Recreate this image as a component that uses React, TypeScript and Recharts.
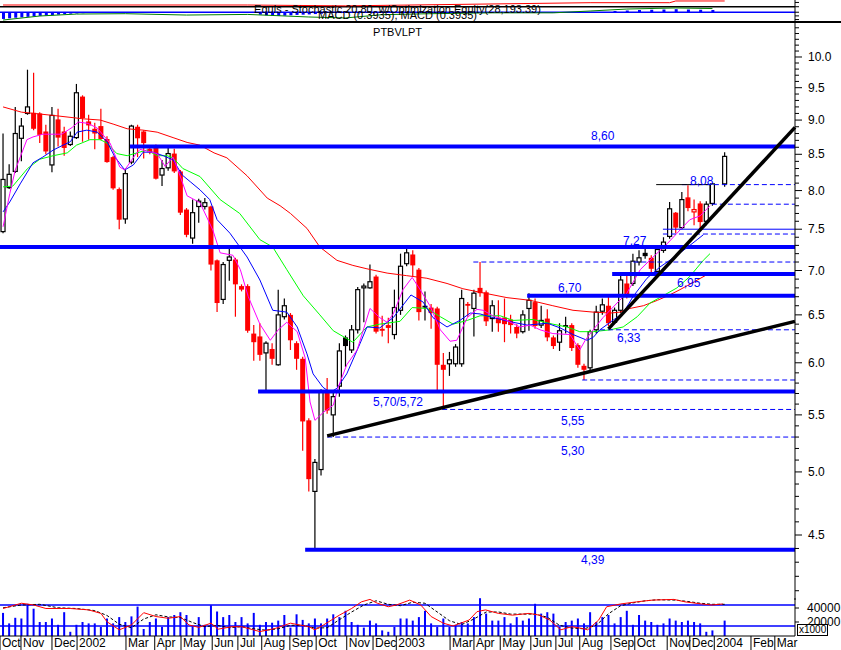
import React from 'react';
import { ComposedChart, Bar, Line, XAxis, YAxis, ReferenceLine } from 'recharts';

const FONT = '"Liberation Sans", Arial, sans-serif';
const BLUE = '#0000ff';

// ---- weekly candles (index 0 = first week of Oct 2001) ----
const opens = [
  7.47, 8.04, 8.26, 8.73, 9.10, 9.11, 9.10, 8.83, 8.35, 9.01,
  8.83, 8.64, 8.74, 9.36, 8.98, 8.87, 8.91, 8.72, 8.46, 8.02,
  7.63, 8.39, 8.90, 8.83, 8.58, 8.62, 8.21, 8.31, 8.51, 8.26,
  7.75, 7.39, 7.79, 7.79, 7.79, 7.12, 6.67, 7.12, 7.13, 6.82,
  6.82, 6.30, 6.27, 6.10, 6.14, 5.98, 6.48, 6.50, 6.20, 6.04,
  5.45, 4.84, 5.02, 5.72, 5.50, 5.77, 6.26, 6.13, 6.34, 6.80,
  6.80, 6.93, 6.35, 6.39, 6.29, 6.55, 7.08, 7.19, 7.01, 6.60,
  6.58, 6.57, 5.98, 5.99, 5.99, 5.99, 6.62, 6.57, 6.80, 6.75,
  6.46, 6.47, 6.47, 6.45, 6.37, 6.32, 6.57, 6.64, 6.39, 6.46,
  6.26, 6.21, 6.39, 6.39, 6.18, 5.97, 5.95, 6.34, 6.54, 6.60,
  6.42, 6.55, 6.85, 6.85, 7.10, 7.21, 7.15, 6.99, 7.24, 7.41,
  7.71, 7.52, 7.91, 7.72, 7.83, 7.60, 7.83, null, 8.09,
];
const highs = [
  8.80, 8.36, 9.20, 9.03, 9.79, 9.74, 9.12, 8.93, 9.20, 9.17,
  8.90, 8.83, 9.56, 9.38, 9.08, 8.96, 9.17, 8.76, 8.48, 8.04,
  8.30, 8.93, 8.93, 8.85, 8.62, 8.64, 8.42, 8.61, 8.58, 8.28,
  7.77, 7.88, 7.89, 7.90, 7.80, 7.13, 7.10, 7.29, 7.15, 6.84,
  6.84, 6.39, 6.41, 6.22, 6.20, 6.78, 6.68, 6.52, 6.22, 6.06,
  5.47, 5.11, 5.74, 5.85, 5.73, 6.20, 6.28, 6.39, 6.81, 6.85,
  7.07, 6.95, 6.49, 6.47, 6.78, 7.20, 7.29, 7.24, 7.03, 6.76,
  6.62, 6.59, 6.10, 6.11, 6.19, 6.78, 6.64, 6.78, 7.10, 6.77,
  6.66, 6.66, 6.68, 6.50, 6.40, 6.55, 6.74, 6.68, 6.60, 6.56,
  6.28, 6.41, 6.48, 6.41, 6.20, 5.99, 6.34, 6.60, 6.68, 6.71,
  6.58, 6.97, 6.97, 7.20, 7.24, 7.26, 7.18, 7.30, 7.40, 7.85,
  7.72, 7.98, 8.07, 7.88, 7.86, 7.86, 8.10, null, 8.53,
];
const lows = [
  7.45, 8.02, 8.24, 8.40, 9.08, 8.85, 8.66, 8.50, 8.25, 8.61,
  8.48, 8.62, 8.72, 8.68, 8.71, 8.57, 8.70, 8.38, 8.01, 7.50,
  7.57, 8.36, 8.46, 8.44, 8.50, 8.15, 8.06, 8.27, 8.24, 7.68,
  7.40, 7.32, 7.58, 7.75, 7.00, 6.53, 6.62, 6.88, 6.48, 6.76,
  6.31, 6.02, 6.02, 5.73, 5.98, 5.97, 6.45, 6.13, 5.93, 5.18,
  4.84, 4.39, 4.97, 5.51, 5.30, 5.67, 5.96, 6.10, 6.30, 6.42,
  6.79, 6.30, 6.27, 6.20, 6.24, 6.50, 7.05, 6.93, 6.44, 6.44,
  6.35, 5.73, 5.56, 5.87, 5.96, 5.96, 6.48, 6.27, 6.70, 6.38,
  6.32, 6.32, 6.21, 6.30, 6.25, 6.30, 6.33, 6.35, 6.36, 6.22,
  6.14, 6.12, 6.30, 6.12, 5.95, 5.83, 5.92, 6.30, 6.50, 6.38,
  6.40, 6.52, 6.68, 6.82, 7.06, 7.14, 6.95, 6.96, 7.21, 7.38,
  7.45, 7.50, 7.73, 7.55, 7.50, 7.55, 7.80, null, 8.05,
];
const closes = [
  8.15, 8.22, 8.80, 8.91, 9.20, 8.87, 8.78, 8.54, 9.07, 8.74,
  8.59, 8.76, 9.42, 9.03, 8.92, 8.80, 8.72, 8.39, 8.03, 7.62,
  8.23, 8.91, 8.73, 8.66, 8.53, 8.16, 8.30, 8.51, 8.26, 7.71,
  7.43, 7.71, 7.86, 7.84, 7.07, 6.63, 7.07, 7.16, 6.84, 6.78,
  6.33, 6.21, 6.08, 6.20, 6.04, 6.50, 6.60, 6.23, 6.04, 5.44,
  4.94, 5.08, 5.72, 5.54, 5.67, 6.12, 6.17, 6.34, 6.78, 6.82,
  6.87, 6.32, 6.33, 6.36, 6.58, 7.05, 7.21, 7.06, 6.53, 6.58,
  6.52, 5.98, 5.93, 6.03, 6.16, 6.68, 6.60, 6.74, 6.74, 6.43,
  6.60, 6.41, 6.40, 6.39, 6.30, 6.50, 6.66, 6.38, 6.44, 6.26,
  6.17, 6.33, 6.37, 6.15, 5.98, 5.93, 6.32, 6.53, 6.61, 6.41,
  6.55, 6.89, 6.70, 7.11, 7.15, 7.17, 7.02, 7.25, 7.34, 7.76,
  7.52, 7.88, 7.77, 7.75, 7.59, 7.82, 8.09, null, 8.47,
];
// w = hollow black, r = filled red, k = filled black, q = hollow red
const kinds = [
  'w', 'w', 'w', 'w', 'w', 'r', 'r', 'r', 'w', 'r',
  'r', 'w', 'w', 'r', 'r', 'r', 'r', 'r', 'r', 'r',
  'w', 'w', 'r', 'r', 'r', 'r', 'w', 'w', 'r', 'r',
  'r', 'w', 'w', 'w', 'r', 'r', 'w', 'w', 'r', 'r',
  'r', 'r', 'r', 'w', 'r', 'w', 'w', 'r', 'r', 'r',
  'r', 'w', 'w', 'r', 'w', 'w', 'k', 'w', 'w', 'w',
  'w', 'r', 'r', 'r', 'w', 'w', 'w', 'r', 'r', 'k',
  'r', 'r', 'r', 'w', 'w', 'w', 'r', 'w', 'r', 'r',
  'w', 'r', 'r', 'r', 'r', 'w', 'w', 'r', 'w', 'r',
  'r', 'w', 'k', 'r', 'r', 'r', 'w', 'w', 'w', 'r',
  'w', 'w', 'r', 'w', 'w', 'k', 'r', 'w', 'w', 'w',
  'r', 'w', 'r', 'q', 'r', 'w', 'w', '', 'w',
];
// weekly volume, thousands
const volumes = [
  33, 18, 26, 25, 46, 39, 20, 20, 25, 16,
  34, 6, 16, 20, 18, 18, 13, 25, 18, 27,
  20, 28, 42, 10, 20, 25, 13, 27, 30, 34,
  30, 14, 27, 16, 44, 35, 27, 30, 20, 27,
  18, 33, 16, 20, 19, 22, 30, 12, 31, 23,
  18, 25, 18, 25, 31, 27, 36, 20, 16, 12,
  22, 18, 8, 6, 13, 25, 25, 22, 27, 36,
  18, 13, 25, 13, 16, 20, 18, 27, 54, 32,
  22, 22, 27, 18, 27, 22, 25, 46, 32, 34,
  32, 13, 20, 22, 25, 18, 34, 20, 27, 30,
  18, 27, 36, 16, 30, 22, 20, 16, 18, 25,
  22, 20, 22, 20, 18, 6, 8, null, 22,
];

// ---- moving averages: [week index, price] ----
const maRed: number[][] = [
  [0, 9.2], [3, 9.12], [8.2, 9.07], [13, 9.02], [15.9, 9.0], [18, 8.94], [20.3, 8.87], [22.9, 8.85],
  [25.2, 8.82], [27.8, 8.74], [30.1, 8.67], [32.2, 8.63], [34.5, 8.52], [36.6, 8.45], [39.9, 8.2],
  [43.2, 7.9], [45.3, 7.8], [47, 7.7], [49.7, 7.51], [51.8, 7.28], [54.6, 7.12], [57.2, 7.06],
  [59.5, 7.02], [62.8, 6.97], [66, 6.94], [69.3, 6.91], [72.6, 6.85], [75.2, 6.79], [78, 6.75],
  [82.4, 6.69], [86.2, 6.66], [89.9, 6.6], [93.2, 6.55], [96.5, 6.53], [99.3, 6.52], [100.9, 6.53],
  [102.5, 6.57], [104.7, 6.6], [107, 6.66], [109, 6.72], [110.7, 6.78], [112.8, 6.86], [115.3, 6.96],
];
const maGreen: number[][] = [
  [0, 8.05], [1.6, 8.06], [4, 8.3], [6, 8.43], [8.2, 8.48], [10.5, 8.52], [12, 8.63], [14.2, 8.71],
  [15.9, 8.71], [17, 8.66], [18.6, 8.51], [20.3, 8.48], [21.9, 8.52], [23.5, 8.56], [25.2, 8.48],
  [26.8, 8.48], [27.8, 8.45], [29.4, 8.3], [32.2, 8.19], [35.5, 7.88], [38.7, 7.7], [42, 7.37],
  [44.1, 7.28], [46.4, 7.01], [49.1, 6.71], [51.8, 6.5], [54, 6.33], [57.2, 6.21], [59.5, 6.37],
  [61.6, 6.4], [64.9, 6.43], [66.9, 6.58], [69.3, 6.57], [71.5, 6.48], [73.6, 6.4], [75.9, 6.44],
  [78, 6.49], [81.3, 6.49], [83.4, 6.44], [86.7, 6.45], [89.9, 6.4], [92.2, 6.37], [94.3, 6.32],
  [96.5, 6.32], [99.3, 6.34], [101.4, 6.37], [103.7, 6.48], [105.8, 6.63], [107.9, 6.71],
  [110.2, 6.8], [112.3, 6.93], [114.5, 7.12], [115.6, 7.2],
];
const maBlue: number[][] = [
  [0, 7.72], [1.1, 7.85], [2.8, 8.09], [4.9, 8.38], [6.5, 8.46], [8.2, 8.56], [9.8, 8.63], [11, 8.68],
  [12.1, 8.82], [13.7, 8.85], [15.4, 8.82], [17, 8.68], [18.3, 8.46], [19.9, 8.28], [21.3, 8.35],
  [22.9, 8.53], [24.5, 8.53], [26.2, 8.48], [27.8, 8.42], [29.3, 8.21], [30.6, 8.12], [32.2, 8.01],
  [33.8, 7.88], [35, 7.62], [37.1, 7.45], [39.9, 7.16], [42, 6.89], [44.1, 6.55], [46.4, 6.53],
  [48.1, 6.37], [49.7, 6.09], [50.7, 5.89], [52.3, 5.76], [53.5, 5.71], [54.6, 5.75], [56.2, 5.89],
  [58.4, 6.2], [59.5, 6.37], [61.6, 6.36], [63.8, 6.47], [66.7, 6.72], [68.7, 6.64], [70.3, 6.47],
  [72.6, 6.37], [74.7, 6.44], [76.4, 6.52], [78, 6.51], [80.1, 6.47], [83.4, 6.42], [85.7, 6.39],
  [89, 6.41], [91.1, 6.36], [93.2, 6.29], [95.5, 6.23], [96.5, 6.26], [97.6, 6.34], [99.7, 6.44],
  [101.4, 6.52], [103, 6.7], [105.3, 6.91], [107.4, 7.04], [109.6, 7.15], [111.8, 7.27],
  [113.5, 7.37], [114.5, 7.43],
];
const maMagenta: number[][] = [
  [0, 7.53], [1.1, 7.96], [2, 8.28], [3.9, 8.71], [4.9, 8.75], [6.5, 8.79], [9.6, 8.79], [11.3, 8.89],
  [12.3, 8.97], [13.9, 8.95], [15.4, 8.88], [17.5, 8.66], [19.1, 8.32], [19.9, 8.28], [21.6, 8.49],
  [22.4, 8.57], [25.2, 8.51], [26.5, 8.33], [27.8, 8.46], [28.9, 8.21], [30.1, 7.93], [32.2, 7.84],
  [34.3, 7.49], [35.5, 7.21], [37.6, 7.18], [38.8, 7.01], [40.1, 6.7], [42, 6.4], [43.7, 6.23],
  [45, 6.34], [46.4, 6.42], [48.1, 6.32], [49.4, 6.05], [50.2, 5.62], [51, 5.45], [52.3, 5.52],
  [54, 5.59], [54.8, 5.76], [56.2, 5.98], [57.9, 6.13], [60, 6.57], [61.6, 6.47], [62.8, 6.42],
  [63.8, 6.51], [65.4, 6.78], [66.9, 6.92], [68.2, 6.78], [69.8, 6.6], [71.5, 6.34], [73.1, 6.22],
  [74.2, 6.23], [75.9, 6.47], [77.5, 6.56], [78.5, 6.55], [80.1, 6.49], [82.4, 6.44], [84.5, 6.37],
  [86.2, 6.39], [87.8, 6.34], [89.9, 6.3], [92.7, 6.29], [94.3, 6.13], [95.2, 6.23], [96.5, 6.34],
  [98.1, 6.47], [100.4, 6.63], [102, 6.74], [104.2, 7.01], [106.3, 7.16], [108.6, 7.32],
  [110.7, 7.49], [112.3, 7.62], [114, 7.67], [115.6, 7.8],
];

// ---- stochastic in the volume pane: [week index, value] ----
const stochK: number[][] = [
  [0, 70], [3, 85], [5, 80], [7, 70], [11, 70], [14, 66], [16, 56], [17, 32], [19, 9], [21, 23],
  [23, 58], [25, 47], [27, 42], [29, 47], [30.4, 23], [32, 16], [34, 28], [35.2, 11], [37.4, 18],
  [39, 18], [42, 4], [44.5, 13], [47, 28], [50, 18], [51, 9], [52.4, 23], [55, 51], [57, 70],
  [58.6, 89], [60, 96], [61.2, 85], [63, 75], [64.3, 80], [66.5, 94], [68.3, 80], [70, 47],
  [72, 28], [73.6, 20], [76.2, 37], [77.5, 61], [78.9, 66], [81, 56], [83.3, 51], [86, 56],
  [87.7, 51], [89.4, 37], [91.2, 9], [93, 18], [94.7, 13], [95.6, 9], [97.4, 37], [98.7, 75],
  [101, 83], [103.6, 89], [106.2, 94], [109.7, 96], [111.5, 89], [114.2, 83], [115.9, 80], [117.7, 83],
];
const stochD: number[][] = [
  [0, 72], [3, 80], [6, 82], [9, 72], [12, 70], [15, 64], [17, 50], [19, 25], [21, 15], [23, 40],
  [25, 52], [27, 46], [29, 44], [31, 30], [33, 18], [35, 22], [37, 15], [39, 18], [41, 12], [43, 8],
  [45, 12], [47, 22], [49, 22], [51, 14], [53, 15], [55, 38], [57, 60], [59, 80], [61, 92], [63, 82],
  [65, 78], [67, 88], [69, 85], [71, 60], [73, 35], [75, 24], [77, 40], [79, 60], [81, 60], [83, 54],
  [85, 54], [87, 54], [89, 45], [91, 22], [93, 14], [95, 12], [97, 22], [99, 55], [101, 78],
  [103, 86], [105, 92], [107, 95], [110, 94], [112, 90], [114, 85], [116, 82], [118, 82],
];

// ---- top indicator strip ----
const stripRed: number[][] = [[0, 0.59], [40, 0.59], [56, 0.52], [96, 0.78], [109, 0.78], [110, 0.92], [118, 0.92]];
const stripGreen: number[][] = [
  [0, -0.64], [6, -0.31], [12, -0.15], [20, -0.12], [30, -0.23], [40, -0.18], [50, -0.39], [56, -0.47],
  [62, -0.2], [70, -0.12], [80, -0.05], [90, -0.05], [96, 0.1], [102, 0.26], [110, 0.35], [116, 0.3],
];
const stripHist: number[][] = [
  [0, -0.55], [1, -0.5], [2, -0.45], [3, -0.42], [4, -0.38], [5, -0.34], [6, -0.3], [7, -0.27], [8, -0.24],
  [9, -0.2], [10, -0.16], [11, -0.12], [12, -0.1], [13, -0.08], [14, -0.06],
  [42, -0.2], [43, -0.25], [44, -0.28], [45, -0.3], [46, -0.28], [47, -0.25], [48, -0.22], [49, -0.2],
  [50, -0.18], [51, -0.15], [52, -0.12],
  [100, 0.1], [102, 0.14], [104, 0.18], [106, 0.2], [108, 0.22], [110, 0.25], [112, 0.22], [114, 0.2], [116, 0.18],
];

// ---- axis labels ----
const majorPrices = [4.5, 5.0, 5.5, 6.0, 6.5, 7.0, 7.5, 8.0, 8.5, 9.0, 9.5, 10.0];
const monthTicks = [-0.5, 2.93, 8.0, 12.1, 20.1, 24.8, 29.1, 34.2, 38.4, 42.3, 46.9, 51.2, 56.2, 60.5,
  64.3, 73.1, 77.0, 81.3, 86.3, 90.4, 94.3, 99.4, 103.3, 108.6, 112.3, 116.3, 122.3, 126.2];
const monthLabels = ['Oct', 'Nov', 'Dec', '2002', 'Mar', 'Apr', 'May', 'Jun', 'Jul', 'Aug', 'Sep', 'Oct',
  'Nov', 'Dec', '2003', 'Mar', 'Apr', 'May', 'Jun', 'Jul', 'Aug', 'Sep', 'Oct', 'Nov', 'Dec', '2004', 'Feb', 'Mar'];

// ---- drawn support / resistance levels ----
const thickLevels: number[][] = [ // [startIndex, price]
  [20.76, 8.61], [-0.5, 7.28], [99.6, 6.96], [85.7, 6.71], [41.7, 5.72], [49.4, 4.39],
];
const dashedLevels: number[][] = [
  [111, 8.08], [115.9, 7.82], [107.9, 7.44], [76.9, 7.1], [97.6, 6.34], [94.7, 5.83], [71.8, 5.55], [53, 5.3],
];
const levelTexts: (string | number)[][] = [ // [text, left px, center y px]
  ['8,60', 591, 136], ['8,08', 690, 181], ['7,27', 623, 241], ['6,95', 677, 283], ['6,70', 558, 288],
  ['6,33', 617, 338], ['5,70/5,72', 373, 402], ['5,55', 561, 421], ['5,30', 561, 451], ['4,39', 581, 560],
];

const toPts = (arr: number[][]) => arr.map(([i, v]) => ({ i, v }));

const candles = opens
  .map((o, i) => (o == null ? null : {
    i, o, h: highs[i] as number, l: lows[i] as number, c: closes[i] as number, k: kinds[i],
    range: [lows[i] as number, highs[i] as number],
  }))
  .filter((d) => d != null);

const volData = volumes.map((v, i) => ({ i, vol: v == null ? null : v * 1000 }));
const stripData = stripHist.map(([i, v]) => ({ i, h: v }));

const priceTicks: number[] = [];
for (let t = 41; t <= 106; t++) priceTicks.push(t / 10);

const Candle = (props: any) => {
  const { x, width, payload } = props;
  if (!payload || payload.o == null) return null;
  let { y, height } = props;
  if (height < 0) { y = y + height; height = -height; }
  const { o, h, l, c, k } = payload;
  const lh = Math.log(h);
  const span = lh - Math.log(l) || 1;
  const py = (p: number) => y + ((lh - Math.log(p)) / span) * height;
  const cx = x + (width || 0) / 2;
  const top = Math.min(py(o), py(c));
  const bh = Math.max(Math.abs(py(o) - py(c)), 1);
  const color = k === 'r' || k === 'q' ? '#ff0000' : '#000000';
  const filled = k === 'r' || k === 'k';
  return (
    <g>
      <line x1={cx} x2={cx} y1={y} y2={y + height} stroke={color} strokeWidth={1.2} />
      {filled ? (
        <rect x={cx - 2.5} y={top} width={5} height={bh} fill={color} />
      ) : (
        <rect x={cx - 2} y={top} width={4} height={bh} fill="#ffffff" stroke={color} strokeWidth={1.2} />
      )}
    </g>
  );
};

const ThinBar = (props: any, w: number) => {
  const { x, width } = props;
  let { y, height } = props;
  if (height == null || isNaN(height)) return null;
  if (height < 0) { y = y + height; height = -height; }
  const cx = x + (width || 0) / 2;
  return <rect x={cx - w / 2} y={y} width={w} height={height} fill={BLUE} />;
};

const PriceTick = (props: any) => {
  const { x, y, payload } = props;
  const v = payload.value;
  const major = majorPrices.some((m) => Math.abs(m - v) < 1e-6);
  return (
    <g>
      <line x1={x} x2={x + (major ? 7 : 4)} y1={y} y2={y} stroke="#000" />
      {major && (
        <text x={x + 13} y={y + 4} fontSize={12} fontFamily={FONT} fill="#000">{v.toFixed(1)}</text>
      )}
    </g>
  );
};

const VolTick = (props: any) => {
  const { x, y, payload } = props;
  return (
    <g>
      <line x1={x} x2={x + 4} y1={y} y2={y} stroke="#000" />
      <text x={x + 12} y={y + 4} fontSize={12} fontFamily={FONT} fill="#000">{payload.value}</text>
    </g>
  );
};

const StripTick = (props: any) => {
  const { x, y } = props;
  return <line x1={x} x2={x + 4} y1={y} y2={y} stroke="#000" />;
};

const MonthTick = (props: any) => {
  const { x, y, index } = props;
  return (
    <g>
      <line x1={x} x2={x} y1={y} y2={y + 14} stroke="#000" />
      <text x={x + 2} y={y + 11} fontSize={12} fontFamily={FONT} fill="#000">{monthLabels[index]}</text>
    </g>
  );
};

const maLine = (arr: number[][], color: string, key: string) => (
  <Line key={key} data={toPts(arr)} dataKey="v" type="linear" stroke={color} strokeWidth={1}
    dot={false} activeDot={false} isAnimationActive={false} />
);

export default function App() {
  return (
    <div style={{ position: 'absolute', left: 0, top: 0, width: 841, height: 650, background: '#fff', overflow: 'hidden', fontFamily: FONT }}>
      {/* top indicator strip */}
      <div style={{ position: 'absolute', left: 0, top: 0 }}>
        <ComposedChart width={841} height={22} data={stripData} margin={{ top: 0, right: 0, bottom: 0, left: 0 }}>
          <XAxis dataKey="i" type="number" domain={[-0.5, 129.5]} allowDataOverflow hide />
          <YAxis orientation="right" domain={[-0.8, 1.0]} allowDataOverflow width={46} ticks={[-0.6, -0.3, 0, 0.45, 0.8]}
            interval={0} tick={<StripTick />} tickLine={false} tickSize={0} tickMargin={0} axisLine={{ stroke: '#000' }} />
          <Bar dataKey="h" fill={BLUE} barSize={3} shape={(p: any) => ThinBar(p, 3)} isAnimationActive={false} />
          <ReferenceLine y={0} stroke={BLUE} strokeWidth={1.5} />
          <ReferenceLine y={0.45} stroke="#000" strokeWidth={1.5} />
          {maLine(stripGreen, '#008000', 'sg')}
          {maLine(stripRed, '#ff0000', 'sr')}
        </ComposedChart>
      </div>
      <div style={{ position: 'absolute', left: 0, top: 21, width: 841, height: 2, background: '#000' }} />
      <div style={{ position: 'absolute', left: 0, top: 3, width: 795, textAlign: 'center', fontSize: 11, lineHeight: '12px', color: '#000', whiteSpace: 'nowrap' }}>
        Equis - Stochastic 20,80, w/Optimization Equity(28,193.39)
      </div>
      <div style={{ position: 'absolute', left: 0, top: 9, width: 795, textAlign: 'center', fontSize: 11, lineHeight: '12px', color: '#000', whiteSpace: 'nowrap' }}>
        MACD (0.3935), MACD (0.3935)
      </div>
      <div style={{ position: 'absolute', left: 0, top: 26, width: 795, textAlign: 'center', fontSize: 11, lineHeight: '12px', color: '#000' }}>
        PTBVLPT
      </div>

      {/* main price pane */}
      <div style={{ position: 'absolute', left: 0, top: 22 }}>
        <ComposedChart width={841} height={578} data={candles} margin={{ top: 0, right: 0, bottom: 0, left: 0 }}>
          <XAxis dataKey="i" type="number" domain={[-0.5, 129.5]} allowDataOverflow hide />
          <YAxis orientation="right" scale="log" domain={[4.037, 10.602]} allowDataOverflow width={46}
            ticks={priceTicks} interval={0} tick={<PriceTick />} tickLine={false} tickSize={0} tickMargin={0}
            axisLine={{ stroke: '#000' }} />
          <Bar dataKey="range" barSize={5} shape={(p: any) => <Candle {...p} />} isAnimationActive={false} />
          {maLine(maRed, '#ff0000', 'r')}
          {maLine(maGreen, '#00ff00', 'g')}
          {maLine(maBlue, '#0000ff', 'b')}
          {maLine(maMagenta, '#ff00ff', 'm')}
          {dashedLevels.map(([s, p], n) => (
            <ReferenceLine key={'d' + n} segment={[{ x: s, y: p }, { x: 129.5, y: p }]} stroke={BLUE}
              strokeWidth={1} strokeDasharray="5 3" ifOverflow="visible" />
          ))}
          <ReferenceLine segment={[{ x: 107.9, y: 7.5 }, { x: 129.5, y: 7.5 }]} stroke={BLUE} strokeWidth={1} ifOverflow="visible" />
          {thickLevels.map(([s, p], n) => (
            <ReferenceLine key={'t' + n} segment={[{ x: s, y: p }, { x: 129.5, y: p }]} stroke={BLUE}
              strokeWidth={4} ifOverflow="visible" />
          ))}
          <ReferenceLine segment={[{ x: 106.8, y: 8.08 }, { x: 115.6, y: 8.08 }]} stroke="#000" strokeWidth={1} ifOverflow="visible" />
          <ReferenceLine segment={[{ x: 115.6, y: 8.08 }, { x: 115.6, y: 7.82 }]} stroke="#000" strokeWidth={1} ifOverflow="visible" />
          <ReferenceLine segment={[{ x: 53, y: 5.31 }, { x: 129.5, y: 6.43 }]} stroke="#000" strokeWidth={3.5} ifOverflow="visible" />
          <ReferenceLine segment={[{ x: 99, y: 6.35 }, { x: 129.5, y: 8.89 }]} stroke="#000" strokeWidth={3.5} ifOverflow="visible" />
        </ComposedChart>
      </div>
      {levelTexts.map(([t, x, y], n) => (
        <div key={'lt' + n} style={{ position: 'absolute', left: x as number, top: (y as number) - 6, fontSize: 12, lineHeight: '12px', color: BLUE, whiteSpace: 'nowrap' }}>
          {t}
        </div>
      ))}

      {/* volume + stochastic pane */}
      <div style={{ position: 'absolute', left: 0, top: 598 }}>
        <ComposedChart width={841} height={52} data={volData} margin={{ top: 0, right: 0, bottom: 0, left: 0 }}>
          <XAxis dataKey="i" type="number" domain={[-0.5, 129.5]} allowDataOverflow ticks={monthTicks} interval={0}
            tick={<MonthTick />} tickLine={false} tickSize={0} tickMargin={0} height={14} axisLine={{ stroke: '#000' }} />
          <YAxis yAxisId="v" orientation="right" domain={[0, 54286]} allowDataOverflow width={46} ticks={[20000, 40000]}
            interval={0} tick={<VolTick />} tickLine={false} tickSize={0} tickMargin={0} axisLine={{ stroke: '#000' }} />
          <YAxis yAxisId="s" hide domain={[-8.6, 100]} allowDataOverflow />
          <Bar yAxisId="v" dataKey="vol" fill={BLUE} barSize={2} shape={(p: any) => ThinBar(p, 2)} isAnimationActive={false} />
          <ReferenceLine yAxisId="s" y={80} stroke={BLUE} strokeWidth={1.5} />
          <ReferenceLine yAxisId="s" y={20} stroke={BLUE} strokeWidth={1.5} />
          <Line yAxisId="s" data={toPts(stochD)} dataKey="v" type="linear" stroke="#000" strokeWidth={1}
            strokeDasharray="3 2" dot={false} activeDot={false} isAnimationActive={false} />
          <Line yAxisId="s" data={toPts(stochK)} dataKey="v" type="linear" stroke="#ff0000" strokeWidth={1}
            dot={false} activeDot={false} isAnimationActive={false} />
        </ComposedChart>
      </div>
      <div style={{ position: 'absolute', left: 797, top: 624, fontSize: 10, lineHeight: '10px', padding: '0 1px', border: '1px solid #000', background: '#fff', color: '#000' }}>
        x1000
      </div>
    </div>
  );
}
